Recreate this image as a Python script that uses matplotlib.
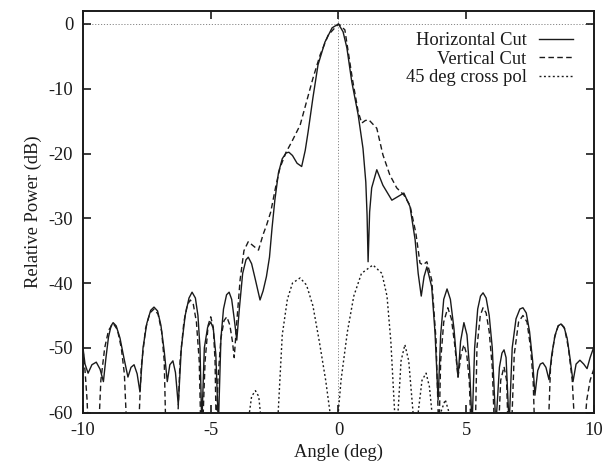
import matplotlib
matplotlib.use("Agg")
import matplotlib.pyplot as plt

# horizontal cut (solid)
h_angle = [-10.0, -9.92, -9.8, -9.65, -9.48, -9.33, -9.2, -9.1, -9.0, -8.9,
           -8.82, -8.7, -8.55, -8.4, -8.24, -8.12, -8.0, -7.88, -7.77, -7.65,
           -7.5, -7.35, -7.22, -7.08, -6.95, -6.82, -6.7, -6.6, -6.48, -6.38,
           -6.27, -6.15, -6.0, -5.85, -5.73, -5.6, -5.5, -5.42, -5.35, -5.25,
           -5.12, -5.0, -4.9, -4.8, -4.7, -4.6, -4.5, -4.38, -4.28, -4.18,
           -4.08, -3.98, -3.88, -3.75, -3.62, -3.53, -3.4, -3.25, -3.07, -2.95,
           -2.82, -2.7, -2.6, -2.49, -2.35, -2.2, -2.05, -1.94, -1.8, -1.62,
           -1.44, -1.3, -1.19, -1.0, -0.8, -0.53, -0.25, 0.0, 0.18, 0.33,
           0.52, 0.77, 0.96, 1.07, 1.12, 1.16, 1.22, 1.3, 1.5, 1.74,
           2.09, 2.35, 2.56, 2.8, 3.0, 3.12, 3.24, 3.35, 3.46, 3.65,
           3.78, 3.9, 4.0, 4.12, 4.25, 4.38, 4.52, 4.68, 4.78, 4.91,
           5.03, 5.13, 5.23, 5.33, 5.45, 5.56, 5.66, 5.78, 5.9, 6.02,
           6.16, 6.3, 6.4, 6.48, 6.56, 6.68, 6.8, 6.95, 7.1, 7.22,
           7.35, 7.48, 7.6, 7.69, 7.8, 7.9, 8.0, 8.12, 8.24, 8.35,
           8.48, 8.6, 8.71, 8.83, 8.95, 9.06, 9.18, 9.3, 9.45, 9.6,
           9.73, 9.85, 10.0]
h_power = [-50.0, -52.5, -53.9, -52.6, -52.2, -53.3, -55.2, -51.5, -48.3, -46.6,
           -46.1, -46.6, -48.5, -51.5, -54.5, -53.0, -52.6, -54.0, -56.8, -50.0,
           -46.2, -44.2, -43.7, -44.3, -46.5, -50.5, -55.2, -52.6, -52.0, -53.8,
           -58.8, -50.0, -45.0, -42.3, -41.4, -42.3, -45.0, -50.0, -62.0, -50.0,
           -46.8, -46.0, -47.0, -51.0, -62.0, -48.5, -44.0, -41.8, -41.4, -42.5,
           -45.5, -48.8, -44.0, -38.5, -36.4, -36.0, -37.0, -39.5, -42.6, -41.2,
           -39.0, -36.0, -31.5, -27.2, -23.0, -20.8, -19.9, -19.8, -20.3, -21.5,
           -22.0, -19.5, -16.7, -11.4, -6.3, -2.8, -0.6, 0.0, -1.2, -3.7,
           -8.9, -14.0, -19.2, -24.4, -29.5, -36.7, -29.0, -25.3, -22.5, -24.9,
           -27.2, -26.6, -26.1, -28.2, -33.3, -38.5, -42.0, -39.0, -37.5, -40.6,
           -47.7, -58.0, -48.0, -42.5, -40.9, -42.5, -47.0, -54.5, -49.0, -46.1,
           -48.0, -53.0, -62.0, -50.0, -44.0, -42.0, -41.5, -42.3, -45.0, -50.0,
           -62.0, -53.0, -50.8, -50.3, -51.5, -62.0, -50.0, -45.5, -44.0, -43.8,
           -44.6, -47.5, -52.0, -57.3, -53.5, -52.5, -52.3, -53.0, -54.9, -51.0,
           -48.0, -46.6, -46.3, -46.8, -48.5, -51.5, -55.2, -52.5, -51.9, -52.5,
           -53.2, -51.5, -49.8]

# vertical cut (dashed)
v_angle = [-10.0, -9.92, -9.84, -9.78, -9.58, -9.4, -9.3, -9.15, -9.0, -8.82,
           -8.65, -8.5, -8.38, -8.27, -8.05, -7.84, -7.72, -7.55, -7.38, -7.22,
           -7.06, -6.92, -6.82, -6.75, -6.55, -6.32, -6.2, -6.05, -5.92, -5.8,
           -5.68, -5.56, -5.45, -5.38, -5.33, -5.22, -5.1, -5.0, -4.9, -4.83,
           -4.78, -4.72, -4.6, -4.48, -4.37, -4.25, -4.15, -4.08, -3.98, -3.85,
           -3.7, -3.53, -3.35, -3.13, -2.95, -2.81, -2.65, -2.45, -2.29, -2.05,
           -1.83, -1.5, -1.25, -1.0, -0.72, -0.4, 0.0, 0.25, 0.55, 0.77,
           0.91, 1.05, 1.19, 1.5, 1.74, 2.01, 2.28, 2.56, 2.8, 3.03,
           3.19, 3.31, 3.46, 3.65, 3.82, 3.93, 4.0, 4.12, 4.28, 4.42,
           4.55, 4.68, 4.8, 4.91, 5.02, 5.12, 5.2, 5.35, 5.42, 5.55,
           5.66, 5.78, 5.9, 6.02, 6.12, 6.25, 6.35, 6.48, 6.58, 6.65,
           6.76, 6.88, 7.05, 7.22, 7.38, 7.52, 7.62, 7.69, 7.95, 8.2,
           8.3, 8.45, 8.6, 8.71, 8.85, 9.0, 9.15, 9.27, 9.45, 9.6,
           9.72, 9.85, 10.0]
v_power = [-50.3, -53.5, -58.0, -64.0, -68.0, -64.0, -55.0, -50.0, -47.3, -46.2,
           -47.2, -50.0, -54.0, -64.0, -68.0, -64.0, -53.0, -47.0, -44.6, -44.0,
           -44.8, -47.5, -52.0, -64.0, -68.0, -64.0, -52.0, -46.0, -43.4, -42.6,
           -43.3, -46.0, -52.0, -64.0, -64.0, -52.0, -46.5, -45.2, -46.8, -52.0,
           -64.0, -55.0, -48.5, -45.8, -45.2, -46.5, -49.0, -51.5, -46.0, -39.5,
           -35.0, -33.6, -34.2, -34.9, -32.5, -31.0, -29.0, -25.0, -22.2, -19.8,
           -18.2, -15.6, -12.0, -8.4, -4.8, -1.7, 0.0, -0.9, -8.6, -13.5,
           -15.3, -14.9, -14.8, -16.1, -20.2, -23.3, -25.3, -26.4, -28.0, -32.3,
           -36.9, -37.2, -36.7, -39.5, -48.8, -64.0, -52.0, -46.0, -43.8, -45.5,
           -49.5, -54.5, -51.0, -49.5, -51.0, -55.0, -64.0, -64.0, -50.0, -45.0,
           -43.8, -44.6, -47.5, -53.0, -64.0, -64.0, -55.0, -52.9, -55.0, -64.0,
           -64.0, -51.0, -46.0, -45.0, -46.0, -50.0, -55.0, -64.0, -68.0, -64.0,
           -53.0, -48.5, -46.6, -46.3, -47.0, -50.0, -55.0, -64.0, -68.0, -64.0,
           -58.0, -55.0, -53.2]

# 45 deg cross pol (dotted)
x_angle = [-3.6, -3.52, -3.4, -3.25, -3.12, -3.03, -2.95, -2.45, -2.36, -2.2,
           -2.0, -1.8, -1.5, -1.25, -1.0, -0.75, -0.5, -0.33, -0.2, -0.05,
           0.1, 0.35, 0.6, 0.9, 1.35, 1.7, 1.9, 2.05, 2.2, 2.27,
           2.33, 2.45, 2.6, 2.75, 2.92, 3.0, 3.12, 3.27, 3.43, 3.56,
           3.66, 3.8, 4.0, 4.18, 4.33, 4.45]
x_power = [-64.0, -61.0, -57.5, -56.6, -57.5, -61.0, -64.0, -64.0, -60.0, -48.0,
           -42.5, -40.0, -39.2, -40.3, -43.5, -49.0, -55.0, -60.0, -64.0, -62.0,
           -55.0, -47.5, -42.0, -38.5, -37.2, -38.5, -42.0, -49.0, -60.0, -66.0,
           -60.0, -52.0, -49.5, -52.0, -60.0, -66.0, -60.0, -55.0, -53.9, -56.0,
           -60.0, -66.0, -60.0, -58.0, -60.0, -66.0]

x_ticks = [-10, -5, 0, 5, 10]
y_ticks = [0, -10, -20, -30, -40, -50, -60]

plt.rcParams["font.family"] = ["Liberation Serif", "DejaVu Serif"]
plt.rcParams["font.size"] = 13.3
plt.rcParams["axes.unicode_minus"] = False

fig = plt.figure(figsize=(6.03, 4.61), dpi=100)
ax = fig.add_axes([0.1376, 0.1048, 0.8474, 0.8713])

ink = "#1a1a1a"
ax.axhline(0, color="#888888", lw=0.7, ls=(0, (1.2, 1.8)), zorder=1)
ax.axvline(0, color="#888888", lw=0.7, ls=(0, (1.2, 1.8)), zorder=1)

ax.plot(h_angle, h_power, color=ink, lw=1.0, label="Horizontal Cut", zorder=3)
ax.plot(v_angle, v_power, color=ink, lw=1.0, dashes=(4.0, 2.4), label="Vertical Cut", zorder=3)
ax.plot(x_angle, x_power, color=ink, lw=1.0, dashes=(1.4, 1.8), label="45 deg cross pol", zorder=3)

ax.set_xlim(-10, 10)
ax.set_ylim(-60, 2)
ax.set_xticks(x_ticks)
ax.set_yticks(y_ticks)
ax.tick_params(direction="in", top=True, right=True, length=6, width=1.2, colors=ink, pad=7)
for s in ax.spines.values():
    s.set_linewidth(1.4)
    s.set_color(ink)

ax.set_xlabel("Angle (deg)", color=ink, labelpad=3)
ax.set_ylabel("Relative Power (dB)", color=ink, labelpad=5)

leg = ax.legend(loc="upper right", frameon=False, markerfirst=False, handlelength=1.8,
                handletextpad=0.7, labelspacing=0.08, borderaxespad=0.75)
for t in leg.get_texts():
    t.set_ha("right")
    t.set_color(ink)
vp = leg._legend_box.get_children()[1]
for c in vp.get_children():
    c.align = "right"

fig.savefig("out.png", dpi=100)
